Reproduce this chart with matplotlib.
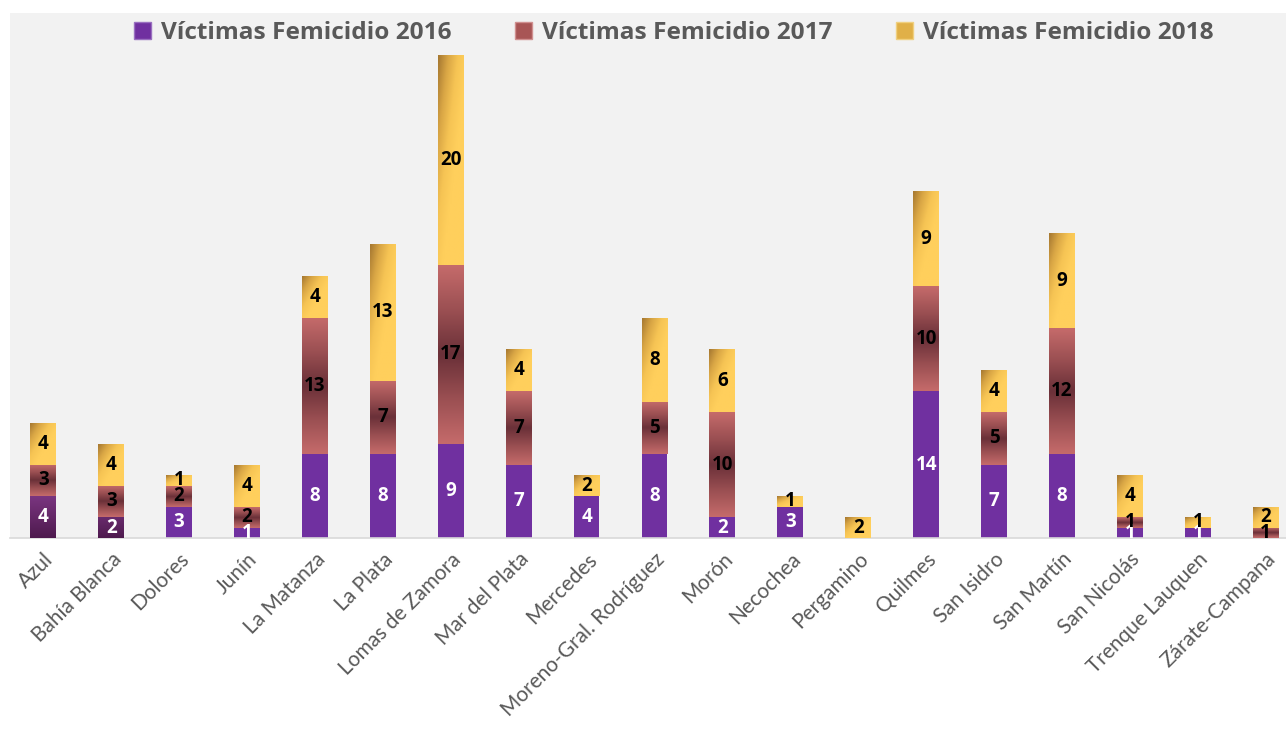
import numpy as np
import matplotlib.pyplot as plt
from matplotlib.colors import LinearSegmentedColormap
from matplotlib.patches import Patch

plt.rcParams['font.family'] = ['Lato', 'DejaVu Sans']

# datos: víctimas de femicidio por departamento judicial
departamentos = ["Azul", "Bahía Blanca", "Dolores", "Junín", "La Matanza", "La Plata",
                 "Lomas de Zamora", "Mar del Plata", "Mercedes", "Moreno-Gral. Rodríguez",
                 "Morón", "Necochea", "Pergamino", "Quilmes", "San Isidro", "San Martín",
                 "San Nicolás", "Trenque Lauquen", "Zárate-Campana"]
v2016 = [4, 2, 3, 1, 8, 8, 9, 7, 4, 8, 2, 3, 0, 14, 7, 8, 1, 1, 0]
v2017 = [3, 3, 2, 2, 13, 7, 17, 7, 0, 5, 10, 0, 0, 10, 5, 12, 1, 0, 1]
v2018 = [4, 4, 1, 4, 4, 13, 20, 4, 2, 8, 6, 1, 2, 9, 4, 9, 4, 1, 2]
series = ["Víctimas Femicidio 2016", "Víctimas Femicidio 2017", "Víctimas Femicidio 2018"]

# colores / degradados
c2016 = "#7030a0"
cmap16_dark = LinearSegmentedColormap.from_list("p", ["#4e1a4e", "#7a3580"])
cmap17 = LinearSegmentedColormap.from_list("r", ["#c46a6a", "#9a4f52", "#6a3038", "#9a4f52", "#c46a6a"])
cmap18 = LinearSegmentedColormap.from_list("y", ["#a87a32", "#d9a645", "#f6c454", "#ffcf5c"])

fig = plt.figure(figsize=(12.86, 7.29), dpi=100)
ax = fig.add_axes([0.0078, 0.262, 0.9922, 0.72])
ax.set_facecolor("#f2f2f2")

x = np.arange(len(departamentos))
w = 0.38
b16 = ax.bar(x, v2016, w, color=c2016, zorder=2)
b17 = ax.bar(x, v2017, w, bottom=v2016, color="#a85555", zorder=2)
bottom18 = np.array(v2016) + np.array(v2017)
b18 = ax.bar(x, v2018, w, bottom=bottom18, color="#f0c050", zorder=2)


def gradient(patch, img, cmap):
    if patch.get_height() == 0:
        return
    x0, y0 = patch.get_x(), patch.get_y()
    ax.imshow(img, cmap=cmap, vmin=0, vmax=1, aspect='auto', zorder=3,
              extent=[x0, x0 + patch.get_width(), y0, y0 + patch.get_height()],
              origin='upper', interpolation='bilinear')


# 2016: los dos primeros con degradado oscuro
yy = np.linspace(0, 1, 50)[:, None] * np.ones((1, 20))
for i, p in enumerate(b16):
    if i < 2:
        gradient(p, 1 - yy if i == 0 else (1 - yy) * 0.6, cmap16_dark)
# 2017: degradado vertical, centro oscuro
for p in b17:
    gradient(p, yy, cmap17)
# 2018: degradado diagonal
uu = np.linspace(0, 1, 20)[None, :]
for p in b18:
    img = np.clip((uu + yy) * 0.85, 0, 1)
    gradient(p, img, cmap18)

# etiquetas de datos
for bars, vals, col in [(b16, v2016, "white"), (b17, v2017, "black"), (b18, v2018, "black")]:
    for p, v in zip(bars, vals):
        if v > 0:
            ax.text(p.get_x() + p.get_width() / 2, p.get_y() + v / 2, str(v),
                    ha='center', va='center', fontsize=13.5, fontweight='bold',
                    family=['Open Sans', 'DejaVu Sans'], color=col, zorder=5)

ax.set_xlim(-0.49, 18.3)
ax.set_ylim(0, 50)
ax.set_yticks([])
ax.set_xticks(x)
ax.set_xticklabels(departamentos, rotation=45, ha='right', rotation_mode='anchor',
                   fontsize=15, color="#595959")
ax.tick_params(axis='x', length=0, pad=8)
for s in ['top', 'right', 'left']:
    ax.spines[s].set_visible(False)
ax.spines['bottom'].set_color("#d9d9d9")
ax.spines['bottom'].set_linewidth(1.2)

handles = [Patch(facecolor=c2016, edgecolor="#9a70c0"),
           Patch(facecolor="#a85555", edgecolor="#d09090"),
           Patch(facecolor="#e0b048", edgecolor="#f0d080")]
leg = ax.legend(handles, series, loc='upper center', bbox_to_anchor=(0.52, 1.027), ncol=3,
                frameon=False, handlelength=0.7, handleheight=0.7, handletextpad=0.4,
                columnspacing=2.6,
                prop={'size': 17.6, 'weight': 'bold', 'family': ['Open Sans', 'DejaVu Sans']})
for t in leg.get_texts():
    t.set_color("#595959")

fig.savefig("out.png", dpi=100, facecolor="white")
